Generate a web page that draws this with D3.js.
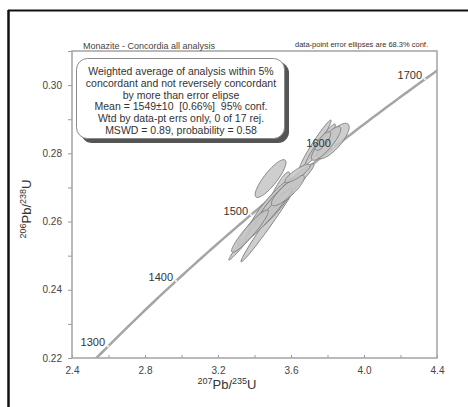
<!DOCTYPE html>
<html lang="en">
  <head>
    <meta charset="utf-8">
    <title>Monazite concordia</title>
    <script src="https://d3js.org/d3.v7.min.js"></script>
    <style media="screen" type="text/css">
      body { margin: 0; background: #fff; }
      svg { display: block; font-family: "Liberation Sans", Arial, sans-serif; }
      .boxtxt { white-space: pre; }
    </style>
  </head>
  <body>
    <div id="main"></div>
    <script type="text/javascript">
      // Data: 207Pb/235U, 1s, 206Pb/238U, 1s, rho
      const ratio207 = [3.830, 3.734, 3.762, 3.792, 3.775, 3.488, 3.526, 3.427, 3.488,
                        3.425, 3.501, 3.542, 3.583, 3.479, 3.583, 3.375, 3.636];
      const err207   = [0.0585, 0.0567, 0.0535, 0.0531, 0.0278, 0.0557, 0.0445, 0.1106, 0.107,
                        0.077, 0.086, 0.0932, 0.0947, 0.0838, 0.0596, 0.0665, 0.0459];
      const ratio206 = [0.2836, 0.2827, 0.2827, 0.2829, 0.2836, 0.2726, 0.2678, 0.2600, 0.2605,
                        0.2605, 0.2649, 0.2671, 0.2696, 0.2622, 0.2691, 0.2572, 0.2741];
      const err206   = [0.00344, 0.00465, 0.00389, 0.00327, 0.0018, 0.00366, 0.00447, 0.00745, 0.00813,
                        0.00487, 0.00532, 0.00536, 0.00489, 0.00505, 0.00294, 0.00411, 0.00176];
      const rho      = [0.78, 0.974, 0.957, 0.853, 0.771, 0.851, 0.892, 0.992, 0.9895,
                        0.953, 0.901, 0.965, 0.962, 0.973, 0.856, 0.935, 0.853];

      const ageLabels = [1300, 1400, 1500, 1600, 1700];
      const xTicks = [2.4, 2.8, 3.2, 3.6, 4.0, 4.4];
      const yTicks = [0.22, 0.24, 0.26, 0.28, 0.30];
      const boxLines = [
        'Weighted average of analysis within 5%',
        'concordant and not reversely concordant',
        'by more than error elipse',
        'Mean = 1549\u00b110  [0.66%]  95% conf.',
        'Wtd by data-pt errs only, 0 of 17 rej.',
        'MSWD = 0.89, probability = 0.58'
      ];

      // decay constants (per year)
      const l238 = 1.55125e-10, l235 = 9.8485e-10;
      const conc = t => [Math.exp(l235 * t * 1e6) - 1, Math.exp(l238 * t * 1e6) - 1];

      const W = 468, H = 407;
      const m = {left: 72, right: 437, top: 51, bottom: 358};

      const x = d3.scaleLinear().domain([2.4, 4.4]).range([m.left, m.right]);
      const y = d3.scaleLinear().domain([0.22, 0.31]).range([m.bottom, m.top]);

      const svg = d3.select('#main').append('svg')
        .attr('width', W).attr('height', H);

      // outer frame (top + left only)
      svg.append('line').attr('x1', 8).attr('x2', W).attr('y1', 10.5).attr('y2', 10.5)
        .attr('stroke', '#111').attr('stroke-width', 2);
      svg.append('line').attr('x1', 8.5).attr('x2', 8.5).attr('y1', 10).attr('y2', H)
        .attr('stroke', '#111').attr('stroke-width', 2.5);

      svg.append('defs').append('clipPath').attr('id', 'plot-clip')
        .append('rect').attr('x', m.left).attr('y', m.top)
        .attr('width', m.right - m.left).attr('height', m.bottom - m.top);

      // axes
      const xAxis = d3.axisBottom(x).tickValues(d3.range(2.4, 4.41, 0.2))
        .tickSize(-3).tickFormat(d => xTicks.some(v => Math.abs(v - d) < 1e-6) ? d3.format('.1f')(d) : '');
      const yAxis = d3.axisLeft(y).tickValues(d3.range(0.22, 0.311, 0.01))
        .tickSize(4).tickFormat(d => yTicks.some(v => Math.abs(v - d) < 1e-6) ? d3.format('.2f')(d) : '');

      const gx = svg.append('g').attr('transform', `translate(0,${m.bottom})`).call(xAxis);
      gx.selectAll('.tick text').attr('dy', '1.25em');
      const gy = svg.append('g').attr('transform', `translate(${m.left},0)`).call(yAxis);
      gy.selectAll('.tick text').attr('dx', '-3');
      [gx, gy].forEach(g => {
        g.select('.domain').remove();
        g.selectAll('.tick line').attr('stroke', '#999');
        g.selectAll('.tick text').attr('fill', '#444').style('font-size', '10px');
      });

      svg.append('rect').attr('x', m.left).attr('y', m.top)
        .attr('width', m.right - m.left).attr('height', m.bottom - m.top)
        .attr('fill', 'none').attr('stroke', '#a3a3a3').attr('stroke-width', 1.5);

      // concordia curve
      const plot = svg.append('g').attr('clip-path', 'url(#plot-clip)');
      const ages = d3.range(1250, 1781, 5);
      plot.append('path')
        .datum(ages.map(conc))
        .attr('d', d3.line().x(d => x(d[0])).y(d => y(d[1])))
        .attr('fill', 'none').attr('stroke', '#a5a5a5').attr('stroke-width', 2.5);

      plot.selectAll('circle.age').data(ageLabels).join('circle')
        .attr('class', 'age')
        .attr('cx', d => x(conc(d)[0])).attr('cy', d => y(conc(d)[1]))
        .attr('r', 1.2).attr('fill', '#eee');

      // error ellipses (68.3% conf)
      const k = Math.sqrt(-2 * Math.log(1 - 0.683));
      const theta = d3.range(0, 2 * Math.PI, Math.PI / 40);
      const ellipses = ratio207.map((v, i) => theta.map(t => [
        v + k * err207[i] * Math.cos(t),
        ratio206[i] + k * err206[i] * (rho[i] * Math.cos(t) + Math.sqrt(1 - rho[i] * rho[i]) * Math.sin(t))
      ]));
      plot.selectAll('path.ell').data(ellipses).join('path')
        .attr('class', 'ell')
        .attr('d', d3.line().x(d => x(d[0])).y(d => y(d[1])).curve(d3.curveLinearClosed))
        .attr('fill', '#c6c6c6').attr('fill-opacity', 0.85)
        .attr('stroke', '#7a7a7a').attr('stroke-width', 0.9);

      // age labels
      svg.selectAll('text.agelbl').data(ageLabels).join('text')
        .attr('class', 'agelbl')
        .attr('x', d => x(conc(d)[0]) - 3).attr('y', d => y(conc(d)[1]))
        .attr('text-anchor', 'end').attr('fill', '#333')
        .style('font-size', '11px')
        .text(d => d);

      // result box
      const box = svg.append('g');
      box.append('rect').attr('x', 81).attr('y', 62).attr('width', 208).attr('height', 81)
        .attr('rx', 11).attr('fill', '#555');
      box.append('rect').attr('x', 76.5).attr('y', 58.5).attr('width', 208).attr('height', 80)
        .attr('rx', 11).attr('fill', '#fff').attr('stroke', '#8a8a8a').attr('stroke-width', 1);
      box.selectAll('text').data(boxLines).join('text')
        .attr('class', 'boxtxt')
        .attr('x', 181).attr('y', (d, i) => 75 + i * 11.8)
        .attr('text-anchor', 'middle').attr('fill', '#333')
        .style('font-size', '10.5px')
        .text(d => d);

      // titles
      svg.append('text').attr('x', 83).attr('y', 49)
        .attr('fill', '#444').style('font-size', '9px')
        .text('Monazite - Concordia all analysis');
      svg.append('text').attr('x', 428).attr('y', 47).attr('text-anchor', 'end')
        .attr('fill', '#333').style('font-size', '7.5px')
        .text('data-point error ellipses are 68.3% conf.');

      // axis titles
      const xt = svg.append('text').attr('x', 227).attr('y', 389)
        .attr('text-anchor', 'middle').attr('fill', '#333').style('font-size', '13px');
      xt.append('tspan').attr('dy', '-5').style('font-size', '9px').text('207');
      xt.append('tspan').attr('dy', '5').text('Pb/');
      xt.append('tspan').attr('dy', '-5').style('font-size', '9px').text('235');
      xt.append('tspan').attr('dy', '5').text('U');

      const yt = svg.append('text').attr('transform', 'translate(31,209) rotate(-90)')
        .attr('text-anchor', 'middle').attr('fill', '#333').style('font-size', '13px');
      yt.append('tspan').attr('dy', '-5').style('font-size', '9px').text('206');
      yt.append('tspan').attr('dy', '5').text('Pb/');
      yt.append('tspan').attr('dy', '-5').style('font-size', '9px').text('238');
      yt.append('tspan').attr('dy', '5').text('U');
    </script>
  </body>
</html>
